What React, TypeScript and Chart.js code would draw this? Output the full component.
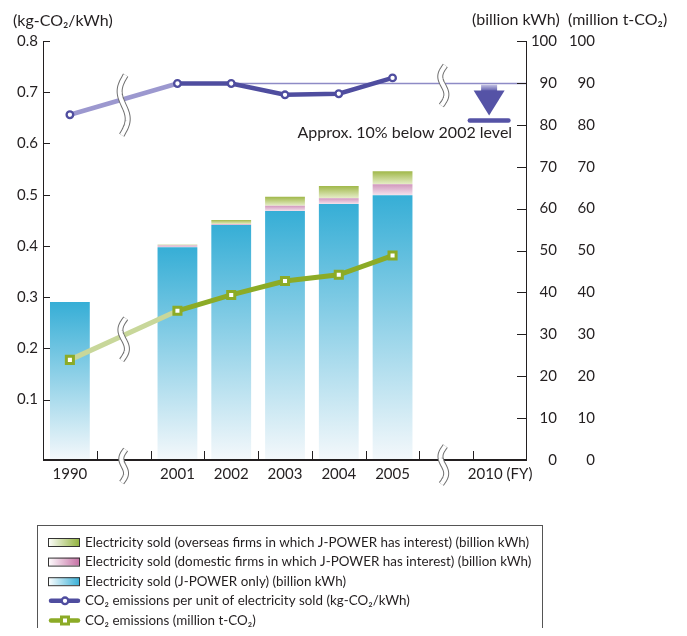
import { useEffect, useRef } from 'react';
import { Chart, registerables } from 'chart.js';

Chart.register(...registerables);

// ---------- data ----------
const categories = ['1990', '', '2001', '2002', '2003', '2004', '2005', '', '2010'];
const xTickLabels = ['1990', '', '2001', '2002', '2003', '2004', '2005', '', '2010 (FY)'];
const soldJPower = [37.7, null, 50.8, 56.1, 59.4, 61.1, 63.2, null, null];
const soldDomestic = [0, null, 0.4, 0.2, 1.3, 1.4, 2.6, null, null];
const soldOverseas = [0, null, 0.2, 1.0, 2.1, 2.9, 3.1, null, null];
const co2PerUnit = [0.656, null, 0.717, 0.717, 0.695, 0.697, 0.728, null, null];
const co2Emissions = [23.9, null, 35.6, 39.4, 42.7, 44.2, 48.8, null, null];
const co2PerUnitTarget = [null, null, null, null, null, null, null, null, 0.645];
const leftTicks = [0.1, 0.2, 0.3, 0.4, 0.5, 0.6, 0.7, 0.8];
const rightTicks = [0, 10, 20, 30, 40, 50, 60, 70, 80, 90, 100];
const baseYear = '2002';
const firstRecentYear = '2001';
const targetText = 'Approx. 10% below 2002 level';
const leftTitle = '(kg-CO\u2082/kWh)';
const rightTitle1 = '(billion kWh)';
const rightTitle2 = '(million t-CO\u2082)';
const labelOverseas = 'Electricity sold (overseas firms in which J-POWER has interest) (billion kWh)';
const labelDomestic = 'Electricity sold (domestic firms in which J-POWER has interest) (billion kWh)';
const labelJPower = 'Electricity sold (J-POWER only) (billion kWh)';
const labelPerUnit = 'CO\u2082 emissions per unit of electricity sold (kg-CO\u2082/kWh)';
const labelEmissions = 'CO\u2082 emissions (million t-CO\u2082)';

// ---------- styles ----------
const FONT = 'Lato, "Noto Sans", sans-serif';
const INK = '#231f20';
const PURPLE = '#4f4d9f';
const PURPLE_LIGHT = '#9c98cf';
const GREEN = '#8cab26';
const GREEN_LIGHT = '#c8d79a';

const recentStart = categories.indexOf(firstRecentYear);

function vGrad(chart: any, top: number, bottom: number, c1: string, c2: string) {
  const g = chart.ctx.createLinearGradient(0, top, 0, bottom);
  g.addColorStop(0, c1);
  g.addColorStop(1, c2);
  return g;
}

function segFill(lowerFn: (i: number) => number, upperFn: (i: number) => number, c1: string, c2: string, solid: string) {
  return (c: any) => {
    if (c.type !== 'data' || c.dataIndex == null) return solid;
    const chart = c.chart;
    const s = chart.scales.y1;
    if (!s) return solid;
    const top = s.getPixelForValue(upperFn(c.dataIndex));
    const bot = s.getPixelForValue(lowerFn(c.dataIndex));
    if (!isFinite(top) || !isFinite(bot) || bot - top < 0.5) return solid;
    return vGrad(chart, top, bot, c1, c2);
  };
}

const jp = (i: number) => soldJPower[i] ?? 0;
const dm = (i: number) => soldDomestic[i] ?? 0;
const ov = (i: number) => soldOverseas[i] ?? 0;

function drawBreak(ctx: CanvasRenderingContext2D, cx: number, cy: number, h: number) {
  const A = Math.min(5, h / 10);
  const slant = 4;
  ctx.save();
  ctx.beginPath();
  for (let k = 0; k <= 40; k++) {
    const t = k / 40;
    const x = cx - A * Math.sin(2 * Math.PI * t) + slant * (0.5 - t);
    const y = cy - h / 2 + t * h;
    if (k === 0) ctx.moveTo(x, y);
    else ctx.lineTo(x, y);
  }
  ctx.lineCap = 'butt';
  ctx.lineJoin = 'round';
  ctx.strokeStyle = '#707070';
  ctx.lineWidth = 6;
  ctx.stroke();
  ctx.strokeStyle = '#ffffff';
  ctx.lineWidth = 4;
  ctx.stroke();
  ctx.restore();
}

const decor = {
  id: 'decor',
  beforeDatasetsDraw(chart: any) {
    const { ctx, chartArea } = chart;
    const xs = chart.scales.x;
    const ys = chart.scales.y;
    const bi = categories.indexOf(baseYear);
    const ly = ys.getPixelForValue(co2PerUnit[bi] as number);
    ctx.save();
    ctx.strokeStyle = '#8e8bc6';
    ctx.lineWidth = 1.5;
    ctx.beginPath();
    ctx.moveTo(xs.getPixelForValue(bi), ly);
    ctx.lineTo(chartArea.right, ly);
    ctx.stroke();
    ctx.restore();
  },
  afterDatasetsDraw(chart: any) {
    const { ctx, chartArea } = chart;
    const xs = chart.scales.x;
    const ys = chart.scales.y;
    const y1 = chart.scales.y1;
    const y2 = chart.scales.y2;
    const L = chartArea.left;
    const R = chartArea.right;
    const B = chartArea.bottom;
    ctx.save();
    ctx.strokeStyle = INK;
    ctx.lineWidth = 1;
    ctx.beginPath();
    ctx.moveTo(L + 0.5, ys.getPixelForValue(0.8));
    ctx.lineTo(L + 0.5, B);
    ctx.moveTo(R - 0.5, y1.getPixelForValue(100));
    ctx.lineTo(R - 0.5, B);
    ctx.stroke();
    ctx.beginPath();
    leftTicks.forEach((v) => {
      const y = Math.round(ys.getPixelForValue(v)) + 0.5;
      ctx.moveTo(L, y);
      ctx.lineTo(L + 7, y);
    });
    rightTicks.forEach((v) => {
      const y = Math.round(y1.getPixelForValue(v)) + 0.5;
      ctx.moveTo(R - 10, y);
      ctx.lineTo(R, y);
    });
    for (let i = 1; i < categories.length; i++) {
      const x = Math.round((xs.getPixelForValue(i - 1) + xs.getPixelForValue(i)) / 2) + 0.5;
      ctx.moveTo(x, B);
      ctx.lineTo(x, B - 9);
    }
    ctx.stroke();
    ctx.lineWidth = 2;
    ctx.beginPath();
    ctx.moveTo(L, B);
    ctx.lineTo(R, B);
    ctx.stroke();
    ctx.restore();

    const gaps: number[] = [];
    categories.forEach((c, i) => { if (c === '') gaps.push(i); });
    const g1 = gaps[0];
    const g2 = gaps[1];
    const gx1 = xs.getPixelForValue(g1);
    const gx2 = xs.getPixelForValue(g2);
    const lerp = (arr: (number | null)[], sc: any, gi: number) => {
      const a = gi - 1;
      const b = gi + 1;
      const xa = xs.getPixelForValue(a);
      const xb = xs.getPixelForValue(b);
      const ya = sc.getPixelForValue(arr[a] as number);
      const yb = sc.getPixelForValue(arr[b] as number);
      const t = (xs.getPixelForValue(gi) - xa) / (xb - xa);
      return ya + (yb - ya) * t;
    };
    drawBreak(ctx, gx1, lerp(co2PerUnit, ys, g1) + 6, 60);
    drawBreak(ctx, gx1, lerp(co2Emissions, y2, g1) + 4, 42);
    drawBreak(ctx, gx1, B + 6, 33);
    const bi = categories.indexOf(baseYear);
    const ly = ys.getPixelForValue(co2PerUnit[bi] as number);
    drawBreak(ctx, gx2 - 3, ly + 2, 40);
    drawBreak(ctx, gx2 - 3, B + 5, 38);

    const ti = co2PerUnitTarget.findIndex((v) => v != null);
    const ty = ys.getPixelForValue(co2PerUnitTarget[ti] as number);
    const cx = xs.getPixelForValue(ti) - 11;
    ctx.save();
    const sg = ctx.createLinearGradient(0, ly, 0, ty - 29);
    sg.addColorStop(0, '#d6d5ee');
    sg.addColorStop(1, '#5654a7');
    ctx.fillStyle = sg;
    ctx.fillRect(cx - 8, ly + 1, 16, ty - 29 - (ly + 1));
    ctx.fillStyle = '#5553a6';
    ctx.beginPath();
    ctx.moveTo(cx - 15.5, ty - 30);
    ctx.lineTo(cx + 15.5, ty - 30);
    ctx.lineTo(cx, ty - 5);
    ctx.closePath();
    ctx.fill();
    ctx.strokeStyle = '#5553a6';
    ctx.lineWidth = 4.5;
    ctx.lineCap = 'round';
    ctx.beginPath();
    ctx.moveTo(cx - 19.3, ty);
    ctx.lineTo(cx + 19.3, ty);
    ctx.stroke();
    ctx.fillStyle = INK;
    ctx.font = `16px ${FONT}`;
    ctx.textAlign = 'right';
    ctx.textBaseline = 'middle';
    ctx.fillText(targetText, cx + 23, ty + 12);
    ctx.restore();
  },
  afterDraw(chart: any) {
    const { ctx } = chart;
    ctx.save();
    ctx.fillStyle = INK;
    ctx.font = `16px ${FONT}`;
    ctx.textAlign = 'left';
    ctx.textBaseline = 'middle';
    ctx.fillText(leftTitle, 5, 13);
    ctx.fillText(rightTitle1, 464, 12);
    ctx.fillText(rightTitle2, 560, 12);

    const bx = 29.5;
    const by = 517.5;
    ctx.strokeStyle = '#555';
    ctx.lineWidth = 1;
    ctx.strokeRect(bx, by, 505, 200);
    const rows = [
      { kind: 'box', label: labelOverseas, color: '#8fb03a' },
      { kind: 'box', label: labelDomestic, color: '#c56ea3' },
      { kind: 'box', label: labelJPower, color: '#35aed6' },
      { kind: 'line', label: labelPerUnit, color: PURPLE, marker: 'circle' },
      { kind: 'line', label: labelEmissions, color: GREEN, marker: 'rect' },
    ];
    ctx.font = `14px "Liberation Sans Narrow", "Arial Narrow", ${FONT}`;
    const w0 = ctx.measureText(labelOverseas).width;
    const sx = 444 / w0;
    rows.forEach((r, k) => {
      const cy = 534 + k * 19.6;
      if (r.kind === 'box') {
        const g = ctx.createLinearGradient(40, 0, 72, 0);
        g.addColorStop(0, '#ffffff');
        g.addColorStop(1, r.color);
        ctx.fillStyle = g;
        ctx.fillRect(40, cy - 4, 32, 8);
        ctx.strokeStyle = '#333';
        ctx.lineWidth = 1;
        ctx.strokeRect(40.5, cy - 3.5, 31, 8);
      } else {
        ctx.strokeStyle = r.color;
        ctx.lineWidth = 4.5;
        ctx.lineCap = 'round';
        ctx.beginPath();
        ctx.moveTo(43, cy);
        ctx.lineTo(70, cy);
        ctx.stroke();
        ctx.fillStyle = '#fff';
        ctx.lineWidth = r.marker === 'circle' ? 2.3 : 3;
        ctx.beginPath();
        if (r.marker === 'circle') ctx.arc(57, cy, 3.3, 0, Math.PI * 2);
        else ctx.rect(53.5, cy - 3.5, 7, 7);
        ctx.fill();
        ctx.stroke();
      }
      ctx.save();
      ctx.fillStyle = INK;
      ctx.translate(77, cy);
      ctx.scale(sx, 1);
      ctx.textAlign = 'left';
      ctx.textBaseline = 'middle';
      ctx.fillText(r.label, 0, 0);
      ctx.restore();
    });
    ctx.restore();
  },
};

export default function App() {
  const ref = useRef<HTMLCanvasElement>(null);
  useEffect(() => {
    const canvas = ref.current;
    if (!canvas) return;
    Chart.defaults.font.family = FONT;
    Chart.defaults.color = INK;
    const chart = new Chart(canvas, {
      type: 'bar',
      data: {
        labels: categories,
        datasets: [
          {
            type: 'line',
            label: labelPerUnit,
            data: co2PerUnit,
            yAxisID: 'y',
            order: 0,
            borderColor: PURPLE,
            borderWidth: 4.5,
            spanGaps: true,
            segment: { borderColor: (s: any) => (s.p1DataIndex <= recentStart ? PURPLE_LIGHT : undefined) },
            pointStyle: 'circle',
            pointRadius: 3.3,
            pointBorderWidth: 2.3,
            pointBorderColor: PURPLE,
            pointBackgroundColor: '#ffffff',
            tension: 0,
          },
          {
            type: 'line',
            label: labelEmissions,
            data: co2Emissions,
            yAxisID: 'y2',
            order: 1,
            borderColor: GREEN,
            borderWidth: 5,
            spanGaps: true,
            segment: { borderColor: (s: any) => (s.p1DataIndex <= recentStart ? GREEN_LIGHT : undefined) },
            pointStyle: 'rect',
            pointRadius: 5,
            pointBorderWidth: 3,
            pointBorderColor: GREEN,
            pointBackgroundColor: '#ffffff',
            tension: 0,
          },
          {
            type: 'bar',
            label: labelJPower,
            data: soldJPower,
            yAxisID: 'y1',
            stack: 's',
            order: 5,
            backgroundColor: segFill(() => 0, (i) => jp(i), '#36aed6', '#f4f8fb', '#36aed6'),
            borderWidth: 0,
            categoryPercentage: 1,
            barPercentage: 0.74,
          },
          {
            type: 'bar',
            label: labelDomestic,
            data: soldDomestic,
            yAxisID: 'y1',
            stack: 's',
            order: 5,
            backgroundColor: segFill((i) => jp(i), (i) => jp(i) + dm(i), '#d197bd', '#f3e2ec', '#d8a6c6'),
            borderWidth: 0,
            categoryPercentage: 1,
            barPercentage: 0.74,
          },
          {
            type: 'bar',
            label: labelOverseas,
            data: soldOverseas,
            yAxisID: 'y1',
            stack: 's',
            order: 5,
            backgroundColor: segFill((i) => jp(i) + dm(i), (i) => jp(i) + dm(i) + ov(i), '#a0b84a', '#e6edc8', '#b7c976'),
            borderWidth: 0,
            categoryPercentage: 1,
            barPercentage: 0.74,
          },
        ],
      } as any,
      options: {
        responsive: false,
        animation: false,
        devicePixelRatio: 1,
        layout: { padding: { top: 33, right: 84, bottom: 146, left: 0 } },
        plugins: { legend: { display: false }, tooltip: { enabled: false } },
        scales: {
          x: {
            type: 'category',
            offset: true,
            stacked: true,
            grid: { display: false, drawTicks: false },
            border: { display: false },
            ticks: {
              autoSkip: false,
              maxRotation: 0,
              padding: 5,
              color: INK,
              font: { size: 15, family: FONT },
              callback: (_v: any, i: number) => xTickLabels[i],
            },
            afterFit: (s: any) => { s.height = 30; },
          },
          y: {
            type: 'linear',
            position: 'left',
            min: -0.018,
            max: 0.8,
            grid: { display: false, drawTicks: false },
            border: { display: false },
            ticks: {
              padding: 5,
              color: INK,
              font: { size: 15, family: FONT },
              callback: (v: any) => Number(v).toFixed(1),
            },
            afterBuildTicks: (s: any) => { s.ticks = leftTicks.map((v) => ({ value: v })); },
            afterFit: (s: any) => { s.width = 35; },
          },
          y1: {
            type: 'linear',
            position: 'right',
            weight: 0,
            stacked: true,
            min: 0,
            max: 100,
            grid: { display: false, drawTicks: false },
            border: { display: false },
            ticks: {
              padding: 2,
              crossAlign: 'far',
              color: INK,
              font: { size: 15, family: FONT },
            },
            afterBuildTicks: (s: any) => { s.ticks = rightTicks.map((v) => ({ value: v })); },
            afterFit: (s: any) => { s.width = 30; },
          },
          y2: {
            type: 'linear',
            position: 'right',
            weight: 1,
            min: 0,
            max: 100,
            grid: { display: false, drawTicks: false },
            border: { display: false },
            ticks: {
              padding: 12,
              crossAlign: 'far',
              color: INK,
              font: { size: 15, family: FONT },
            },
            afterBuildTicks: (s: any) => { s.ticks = rightTicks.map((v) => ({ value: v })); },
            afterFit: (s: any) => { s.width = 38; },
          },
        },
      } as any,
      plugins: [decor],
    });
    return () => chart.destroy();
  }, []);
  return (
    <div style={{ width: 671, height: 628, overflow: 'hidden', marginBottom: -8 }}>
      <canvas ref={ref} width={671} height={628} style={{ display: 'block', width: 671, height: 628 }} />
    </div>
  );
}
